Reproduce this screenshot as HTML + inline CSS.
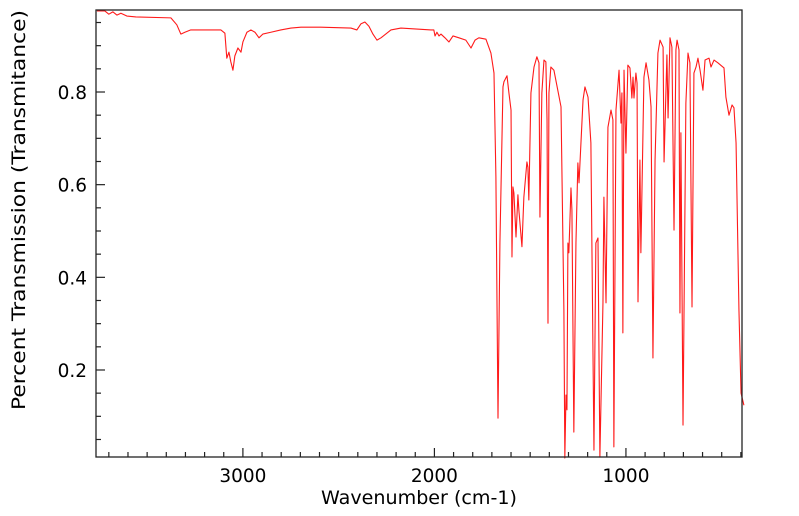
<!DOCTYPE html>
<html><head><meta charset="utf-8"><style>
body{margin:0;background:#fff;}
svg{display:block;font-family:"DejaVu Sans","Liberation Sans",sans-serif;}
</style></head><body>
<svg id="chart" width="799" height="516" viewBox="0 0 799 516" xmlns="http://www.w3.org/2000/svg">
<rect x="0" y="0" width="799" height="516" fill="#fff"/>
<g id="ticks"></g>
<path id="spectrum" fill="none" stroke="#ff1a1a" stroke-width="1.1" stroke-linejoin="round"/>
<rect x="96" y="10" width="646" height="447" fill="none" stroke="#222" stroke-width="1.3"/>
<text x="419" y="504" font-size="19" text-anchor="middle" fill="#000" textLength="196" lengthAdjust="spacingAndGlyphs">Wavenumber (cm-1)</text>
<text transform="translate(25,210) rotate(-90)" font-size="19" text-anchor="middle" fill="#000" textLength="400" lengthAdjust="spacingAndGlyphs">Percent Transmission (Transmitance)</text>
</svg>
<script>
const wavenumbers=[3762,3721,3700,3679,3658,3637,3606,3559,3376,3345,3324,3303,3272,3115,3094,3084,3073,3063,3052,3042,3026,3010,3000,2979,2958,2937,2916,2896,2854,2802,2749,2697,2593,2436,2405,2384,2363,2342,2321,2300,2279,2227,2175,2018,2003,1997,1987,1976,1966,1945,1924,1903,1872,1836,1809,1788,1768,1731,1705,1689,1679,1668,1658,1642,1637,1621,1611,1600,1595,1590,1585,1574,1564,1559,1543,1533,1517,1512,1507,1496,1480,1465,1454,1449,1439,1428,1418,1412,1407,1402,1392,1376,1339,1324,1319,1313,1308,1303,1298,1287,1282,1272,1261,1251,1245,1224,1214,1198,1183,1167,1157,1146,1136,1120,1115,1104,1094,1078,1068,1063,1052,1036,1026,1021,1016,1010,1000,990,979,969,963,958,948,942,937,927,922,906,895,880,869,859,848,833,822,806,801,786,780,770,760,749,739,733,723,718,713,702,687,676,666,655,645,634,624,613,598,587,566,556,540,520,488,478,462,446,436,425,410,399,384];
const transmittance=[0.975,0.975,0.968,0.973,0.966,0.970,0.964,0.962,0.960,0.945,0.925,0.929,0.934,0.934,0.927,0.873,0.886,0.865,0.847,0.878,0.895,0.886,0.908,0.929,0.934,0.929,0.917,0.925,0.929,0.934,0.938,0.940,0.940,0.938,0.934,0.947,0.951,0.942,0.925,0.912,0.917,0.934,0.938,0.934,0.934,0.921,0.929,0.921,0.925,0.917,0.908,0.921,0.917,0.912,0.895,0.912,0.917,0.914,0.884,0.841,0.617,0.096,0.474,0.811,0.822,0.835,0.798,0.761,0.444,0.595,0.582,0.487,0.578,0.545,0.466,0.573,0.649,0.638,0.567,0.798,0.854,0.876,0.863,0.530,0.798,0.869,0.865,0.740,0.301,0.798,0.854,0.847,0.768,0.330,0.010,0.146,0.114,0.474,0.453,0.593,0.545,0.066,0.474,0.647,0.604,0.783,0.811,0.789,0.690,0.027,0.474,0.485,0.012,0.345,0.573,0.345,0.724,0.761,0.740,0.034,0.761,0.847,0.733,0.798,0.280,0.847,0.668,0.858,0.852,0.787,0.832,0.787,0.841,0.819,0.347,0.653,0.453,0.832,0.863,0.826,0.768,0.226,0.653,0.884,0.912,0.897,0.649,0.880,0.744,0.917,0.897,0.502,0.891,0.912,0.891,0.323,0.712,0.081,0.776,0.884,0.863,0.336,0.841,0.854,0.873,0.847,0.804,0.869,0.873,0.854,0.869,0.863,0.852,0.789,0.750,0.772,0.766,0.690,0.330,0.150,0.124];
const xMajorTicks=[3000,2000,1000];
const yMajorTicks=[0.2,0.4,0.6,0.8];

const X0=96,X1=742,Y0=10,Y1=457;
const wnLeft=3767,wnRight=394,tTop=0.977,tBottom=0.0122;
function xs(w){return X0+(wnLeft-w)/(wnLeft-wnRight)*(X1-X0);}
function ys(t){return Y1-(t-tBottom)/(tTop-tBottom)*(Y1-Y0);}

const NS="http://www.w3.org/2000/svg";
let d="";
for(let i=0;i<wavenumbers.length;i++){
  d+=(i?"L":"M")+xs(wavenumbers[i]).toFixed(2)+","+ys(Math.min(Math.max(transmittance[i],tBottom-0.02),tTop)).toFixed(2);
}
document.getElementById("spectrum").setAttribute("d",d);

const g=document.getElementById("ticks");
function line(x1,y1,x2,y2,name){
  const l=document.createElementNS(NS,"line");
  l.setAttribute("x1",x1);l.setAttribute("y1",y1);l.setAttribute("x2",x2);l.setAttribute("y2",y2);
  l.setAttribute("stroke","#222");l.setAttribute("stroke-width","1.2");
  
  
  g.appendChild(l);
}
function label(x,y,txt,anchor,name){
  const t=document.createElementNS(NS,"text");
  t.setAttribute("x",x);t.setAttribute("y",y);t.setAttribute("font-size","18.5");
  t.setAttribute("text-anchor",anchor);t.setAttribute("fill","#000");
  t.textContent=txt;
  
  
  g.appendChild(t);
}
for(let w=3700;w>=400;w-=100){
  const x=xs(w);
  const major=xMajorTicks.indexOf(w)>=0;
  line(x,Y1,x,Y1-(major?9:5),major?"x-major-tick":"x-minor-tick");
}
xMajorTicks.forEach(w=>label(xs(w),482,String(w),"middle","x-tick-label"));
for(let k=1;k<=19;k++){
  const t=k*0.05;
  if(t>tTop)break;
  const y=ys(t);
  const major=yMajorTicks.some(v=>Math.abs(v-t)<1e-6);
  line(X0,y,X0+(major?9:5),y,major?"y-major-tick":"y-minor-tick");
}
yMajorTicks.forEach(t=>label(87,ys(t)+7,t.toFixed(1),"end","y-tick-label"));
</script>
</body></html>
